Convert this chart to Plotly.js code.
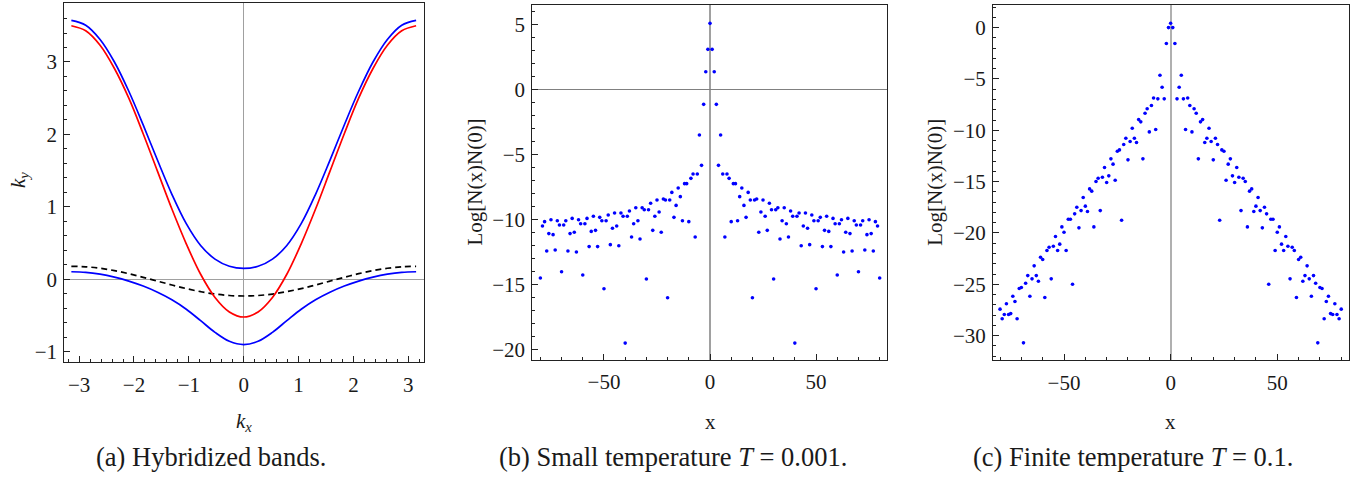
<!DOCTYPE html>
<html>
<head>
<meta charset="utf-8">
<script src="https://cdn.plot.ly/plotly-3.0.1.min.js"></script>
<style>html,body{margin:0;padding:0;background:#fff;}#chart{width:1367px;height:479px;}</style>
</head>
<body>
<div id="chart"></div>
<script>
// ---- Panel (a): hybridized bands ----
const kx = [-3.1416, -2.8798, -2.618, -2.3562, -2.0944, -1.8326, -1.5708, -1.309, -1.0472, -0.7854, -0.5236, -0.2618, 0,
            0.2618, 0.5236, 0.7854, 1.0472, 1.309, 1.5708, 1.8326, 2.0944, 2.3562, 2.618, 2.8798, 3.1416];
const bandUpper = [3.575, 3.508, 3.311, 3.000, 2.596, 2.131, 1.643, 1.174, 0.769, 0.468, 0.279, 0.180, 0.150,
                   0.180, 0.279, 0.468, 0.769, 1.174, 1.643, 2.131, 2.596, 3.000, 3.311, 3.508, 3.575];
const bandRed = [3.50, 3.43, 3.23, 2.91, 2.50, 2.01, 1.49, 0.97, 0.49, 0.07, -0.25, -0.45, -0.52,
                 -0.45, -0.25, 0.07, 0.49, 0.97, 1.49, 2.01, 2.50, 2.91, 3.23, 3.43, 3.50];
const bandLower = [0.105, 0.097, 0.072, 0.031, -0.024, -0.093, -0.178, -0.282, -0.412, -0.570, -0.732, -0.855, -0.900,
                   -0.855, -0.732, -0.570, -0.412, -0.282, -0.178, -0.093, -0.024, 0.031, 0.072, 0.097, 0.105];
const bandDashed = [0.18, 0.173, 0.153, 0.12, 0.078, 0.028, -0.025, -0.078, -0.128, -0.17, -0.203, -0.223, -0.23,
                    -0.223, -0.203, -0.17, -0.128, -0.078, -0.025, 0.028, 0.078, 0.12, 0.153, 0.173, 0.18];

// ---- Panels (b) and (c): x = -80 .. 80 ----
const xs = Array.from({length: 161}, (_, i) => i - 80);
const logSmallT = [
  -14.51, -10.52, -10.18, -12.44, -11.1, -10.03, -11.18, -12.36, -10.11, -10.44,
  -14.03, -10.44, -10.11, -12.44, -11.1, -9.93, -11.0, -12.51, -10.03, -10.34,
  -14.28, -10.34, -9.93, -12.1, -10.93, -9.77, -10.85, -12.1, -9.85, -10.11,
  -15.34, -10.11, -9.67, -11.95, -10.69, -9.51, -10.52, -12.03, -9.51, -9.77,
  -19.52, -9.77, -9.36, -11.36, -10.34, -9.11, -10.11, -11.51, -9.11, -9.26,
  -14.59, -9.26, -8.77, -10.85, -9.77, -8.52, -9.44, -11.0, -8.44, -8.52,
  -16.03, -8.52, -7.93, -9.85, -8.93, -7.59, -8.26, -10.11, -7.26, -7.26,
  -10.18, -6.85, -6.52, -11.36, -6.52, -3.52, -5.85, -1.16, 1.35, 3.07,
  5.07,
  3.07, 1.35, -1.16, -5.85, -3.52, -6.52, -11.36, -6.52, -6.85, -10.18,
  -7.26, -7.26, -10.11, -8.26, -7.59, -8.93, -9.85, -7.93, -8.52, -16.03,
  -8.52, -8.44, -11.0, -9.44, -8.52, -9.77, -10.85, -8.77, -9.26, -14.59,
  -9.26, -9.11, -11.51, -10.11, -9.11, -10.34, -11.36, -9.36, -9.77, -19.52,
  -9.77, -9.51, -12.03, -10.52, -9.51, -10.69, -11.95, -9.67, -10.11, -15.34,
  -10.11, -9.85, -12.1, -10.85, -9.77, -10.93, -12.1, -9.93, -10.34, -14.28,
  -10.34, -10.03, -12.51, -11.0, -9.93, -11.1, -12.44, -10.11, -10.44, -14.03,
  -10.44, -10.11, -12.36, -11.18, -10.03, -11.1, -12.44, -10.18, -10.52, -14.51
];
const logFiniteT = [
  -27.42, -28.36, -27.94, -26.9, -27.94, -27.85, -26.16, -26.68, -28.36, -25.41,
  -25.31, -30.7, -24.89, -24.15, -26.16, -24.47, -23.2, -24.15, -24.7, -22.36,
  -22.59, -26.29, -21.71, -21.39, -24.47, -21.29, -20.35, -21.71, -21.09, -19.41,
  -19.93, -21.71, -18.66, -18.66, -24.99, -18.14, -17.49, -19.5, -17.82, -16.55,
  -17.39, -17.91, -15.71, -15.93, -19.41, -14.99, -14.67, -17.82, -14.57, -13.63,
  -15.09, -14.44, -12.78, -13.3, -14.86, -12.04, -11.91, -18.76, -11.39, -10.77,
  -12.88, -11.1, -9.8, -10.77, -11.19, -8.96, -9.18, -12.78, -8.34, -7.9,
  -10.16, -7.59, -6.85, -9.93, -6.94, -4.64, -5.81, -6.94, -1.55, 0.0,
  0.43,
  0.0, -1.55, -6.94, -5.81, -4.64, -6.94, -9.93, -6.85, -7.59, -10.16,
  -7.9, -8.34, -12.78, -9.18, -8.96, -11.19, -10.77, -9.8, -11.1, -12.88,
  -10.77, -11.39, -18.76, -11.91, -12.04, -14.86, -13.3, -12.78, -14.44, -15.09,
  -13.63, -14.57, -17.82, -14.67, -14.99, -19.41, -15.93, -15.71, -17.91, -17.39,
  -16.55, -17.82, -19.5, -17.49, -18.14, -24.99, -18.66, -18.66, -21.71, -19.93,
  -19.41, -21.09, -21.71, -20.35, -21.29, -24.47, -21.39, -21.71, -26.29, -22.59,
  -22.36, -24.7, -24.15, -23.2, -24.47, -26.16, -24.15, -24.89, -30.7, -25.31,
  -25.41, -28.36, -26.68, -26.16, -27.85, -27.94, -26.9, -27.94, -28.36, -27.42
];

const captions = ["(a) Hybridized bands.", "(b) Small temperature <i>T</i> = 0.001.", "(c) Finite temperature <i>T</i> = 0.1."];
const yTitles = ["<i>k<sub>y</sub></i>", "Log[N(x)N(0)]", "Log[N(x)N(0)]"];
const xTitles = ["<i>k<sub>x</sub></i>", "x", "x"];

const FONT = "Liberation Serif";
const INK = "#1a1a1a";

const lineTrace = (y, color, dash) => ({
  x: kx, y: y, type: "scatter", mode: "lines", xaxis: "x", yaxis: "y",
  line: {color: color, width: 1.7, dash: dash || "solid", shape: "spline", smoothing: 1},
  hoverinfo: "skip"
});

const traces = [
  lineTrace(bandDashed, "#000000", "6px,4px"),
  lineTrace(bandRed, "#ff0000"),
  lineTrace(bandUpper, "#0000ff"),
  lineTrace(bandLower, "#0000ff"),
  {x: xs, y: logSmallT, type: "scatter", mode: "markers", xaxis: "x2", yaxis: "y2",
   marker: {color: "#0000ff", size: 3.6}},
  {x: xs, y: logFiniteT, type: "scatter", mode: "markers", xaxis: "x3", yaxis: "y3",
   marker: {color: "#0000ff", size: 3.6}}
];

function axisBase(extra) {
  return Object.assign({
    showline: true, mirror: true, linecolor: "#222", linewidth: 1,
    ticks: "inside", ticklen: 6, tickwidth: 1, tickcolor: "#222",
    showgrid: false, fixedrange: true,
    tickfont: {family: FONT, size: 21, color: INK},
    automargin: false
  }, extra);
}

const W = 1367, H = 479;
const px = v => v / W;
const py = v => (H - v) / H;

const layout = {
  width: W, height: H,
  margin: {l: 0, r: 0, t: 0, b: 0},
  paper_bgcolor: "#ffffff", plot_bgcolor: "#ffffff",
  showlegend: false,
  font: {family: FONT, color: INK, size: 21},
  xaxis: axisBase({domain: [px(64.3), px(423.7)], range: [-3.27, 3.28], anchor: "y",
    tick0: 0, dtick: 1, minor: {ticks: "inside", dtick: 0.2, ticklen: 3, tickcolor: "#222"},
    zeroline: true, zerolinecolor: "#a0a0a0", zerolinewidth: 1.5, ticklabelstandoff: 3}),
  yaxis: axisBase({domain: [py(362.3), py(3.3)], range: [-1.145, 3.81], anchor: "x",
    tick0: 0, dtick: 1, minor: {ticks: "inside", dtick: 0.2, ticklen: 3, tickcolor: "#222"},
    zeroline: true, zerolinecolor: "#a0a0a0", zerolinewidth: 1.5, ticklabelstandoff: 2}),
  xaxis2: axisBase({domain: [px(532.3), px(887.3)], range: [-83.8, 83.6], anchor: "y2",
    tick0: 0, dtick: 50, minor: {ticks: "inside", dtick: 10, ticklen: 3, tickcolor: "#222"},
    zeroline: true, zerolinecolor: "#a0a0a0", zerolinewidth: 1.5, ticklabelstandoff: 3}),
  yaxis2: axisBase({domain: [py(360), py(5)], range: [-20.82, 6.48], anchor: "x2",
    tick0: 0, dtick: 5, minor: {ticks: "inside", dtick: 1, ticklen: 3, tickcolor: "#222"},
    zeroline: true, zerolinecolor: "#808080", zerolinewidth: 1.2, ticklabelstandoff: 2}),
  xaxis3: axisBase({domain: [px(993), px(1348.7)], range: [-83.3, 83.5], anchor: "y3",
    tick0: 0, dtick: 50, minor: {ticks: "inside", dtick: 10, ticklen: 3, tickcolor: "#222"},
    zeroline: true, zerolinecolor: "#b0b0b0", zerolinewidth: 2, ticklabelstandoff: 3}),
  yaxis3: axisBase({domain: [py(360.3), py(5)], range: [-32.4, 2.2], anchor: "x3",
    tick0: 0, dtick: 5, minor: {ticks: "inside", dtick: 1, ticklen: 3, tickcolor: "#222"},
    zeroline: false, ticklabelstandoff: 2}),
  annotations: []
};

const capX = [211.5, 672.8, 1133.3];
const xTitleX = [243.7, 710, 1170.7];
const yTitleX = [19, 475, 935.3];
const yTitleY = [180, 182.5, 182.5];
for (let i = 0; i < 3; i++) {
  layout.annotations.push({xref: "paper", yref: "paper", x: px(capX[i]), y: py(456.7),
    xanchor: "center", yanchor: "middle", showarrow: false, text: captions[i],
    font: {family: FONT, size: 26.5, color: INK}});
  layout.annotations.push({xref: "paper", yref: "paper", x: px(xTitleX[i]), y: py(422),
    xanchor: "center", yanchor: "middle", showarrow: false, text: xTitles[i],
    font: {family: FONT, size: 21, color: INK}});
  layout.annotations.push({xref: "paper", yref: "paper", x: px(yTitleX[i]), y: py(yTitleY[i]),
    xanchor: "center", yanchor: "middle", showarrow: false, textangle: -90, text: yTitles[i],
    font: {family: FONT, size: 21, color: INK}});
}

Plotly.newPlot("chart", traces, layout, {staticPlot: true, displayModeBar: false});
</script>
</body>
</html>
